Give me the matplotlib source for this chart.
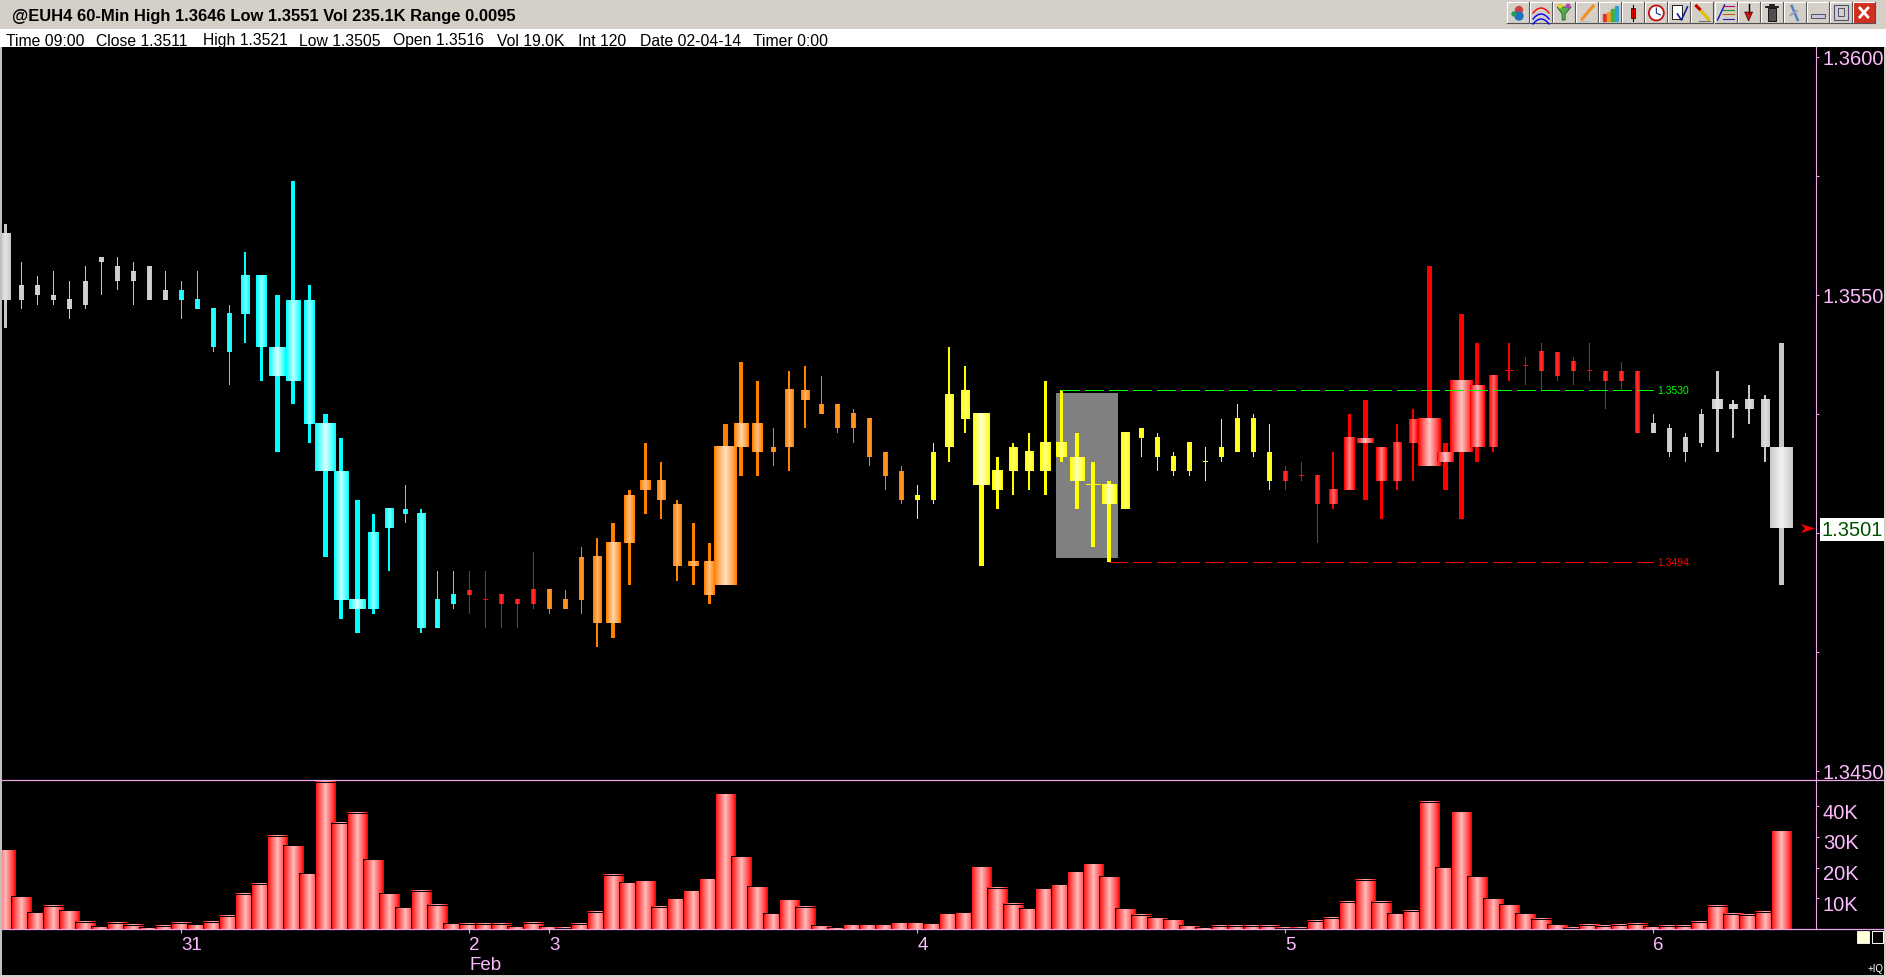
import numpy as np
import matplotlib
matplotlib.use('Agg')
import matplotlib.pyplot as plt
from matplotlib.patches import Rectangle, Circle, Polygon
from matplotlib.transforms import ScaledTranslation

plt.rcParams['font.family'] = ['Liberation Sans', 'DejaVu Sans']
plt.rcParams['lines.scale_dashes'] = False

# candle values
high = [
    1.3565,1.3557,1.3554,1.3555,1.3553,1.3556,1.3558,1.3558,1.3557,1.3556,
    1.3555,1.3553,1.3555,1.3547,1.3548,1.3559,1.3554,1.3550,1.3574,1.3552,
    1.3525,1.3520,1.3507,1.3504,1.3505,1.3510,1.3505,1.3492,1.3492,1.3492,
    1.3492,1.3487,1.3486,1.3496,1.3488,1.3488,1.3497,1.3499,1.3502,1.3509,
    1.3519,1.3515,1.3507,1.3502,1.3498,1.3523,1.3536,1.3532,1.3522,1.3534,
    1.3535,1.3533,1.3527,1.3526,1.3524,1.3517,1.3514,1.3510,1.3519,1.3539,
    1.3535,1.3525,1.3516,1.3519,1.3521,1.3532,1.3530,1.3521,1.3515,1.3511,
    1.3521,1.3522,1.3521,1.3517,1.3519,1.3518,1.3524,1.3527,1.3525,1.3523,
    1.3514,1.3515,1.3512,1.3517,1.3525,1.3528,1.3518,1.3523,1.3526,1.3556,
    1.3519,1.3546,1.3540,1.3533,1.3540,1.3537,1.3540,1.3538,1.3537,1.3540,
    1.3534,1.3536,1.3534,1.3525,1.3523,1.3521,1.3526,1.3534,1.3528,1.3531,
    1.3529,1.3540]
body_top = [
    1.3563,1.3552,1.3552,1.3550,1.3549,1.3553,1.3558,1.3556,1.3555,1.3556,
    1.3551,1.3551,1.3549,1.3547,1.3546,1.3554,1.3554,1.3539,1.3549,1.3549,
    1.3523,1.3513,1.3486,1.3500,1.3505,1.3505,1.3504,1.3486,1.3487,1.3488,
    1.3486,1.3487,1.3486,1.3488,1.3488,1.3486,1.3495,1.3495,1.3498,1.3508,
    1.3511,1.3511,1.3506,1.3494,1.3494,1.3518,1.3523,1.3523,1.3518,1.3530,
    1.3530,1.3527,1.3527,1.3525,1.3524,1.3517,1.3513,1.3508,1.3517,1.3529,
    1.3530,1.3525,1.3513,1.3518,1.3517,1.3519,1.3519,1.3516,1.3510,1.3510,
    1.3521,1.3522,1.3520,1.3516,1.3519,1.3515,1.3518,1.3524,1.3524,1.3517,
    1.3513,1.3512,1.3512,1.3509,1.3520,1.3520,1.3518,1.3519,1.3524,1.3524,
    1.3517,1.3532,1.3531,1.3533,1.3534,1.3535,1.3538,1.3538,1.3536,1.3534,
    1.3534,1.3534,1.3534,1.3523,1.3522,1.3520,1.3525,1.3528,1.3527,1.3528,
    1.3528,1.3518]
body_bot = [
    1.3549,1.3549,1.3550,1.3549,1.3547,1.3548,1.3557,1.3553,1.3553,1.3549,
    1.3549,1.3549,1.3547,1.3539,1.3538,1.3546,1.3539,1.3533,1.3532,1.3523,
    1.3513,1.3486,1.3484,1.3484,1.3501,1.3504,1.3480,1.3480,1.3485,1.3487,
    1.3486,1.3485,1.3485,1.3485,1.3484,1.3484,1.3486,1.3481,1.3481,1.3498,
    1.3509,1.3507,1.3493,1.3493,1.3487,1.3489,1.3518,1.3517,1.3517,1.3518,
    1.3528,1.3525,1.3522,1.3522,1.3516,1.3512,1.3507,1.3507,1.3507,1.3518,
    1.3524,1.3510,1.3509,1.3513,1.3513,1.3513,1.3516,1.3511,1.3510,1.3506,
    1.3505,1.3520,1.3516,1.3513,1.3513,1.3515,1.3516,1.3517,1.3517,1.3511,
    1.3511,1.3512,1.3506,1.3506,1.3509,1.3519,1.3511,1.3511,1.3519,1.3514,
    1.3515,1.3517,1.3518,1.3518,1.3534,1.3535,1.3534,1.3533,1.3534,1.3534,
    1.3532,1.3532,1.3521,1.3521,1.3517,1.3517,1.3519,1.3526,1.3526,1.3526,
    1.3518,1.3501]
low = [
    1.3543,1.3547,1.3548,1.3548,1.3545,1.3547,1.3550,1.3551,1.3548,1.3549,
    1.3549,1.3545,1.3547,1.3538,1.3531,1.3540,1.3532,1.3517,1.3527,1.3519,
    1.3495,1.3482,1.3479,1.3483,1.3492,1.3502,1.3479,1.3480,1.3484,1.3483,
    1.3480,1.3480,1.3480,1.3484,1.3483,1.3484,1.3483,1.3476,1.3478,1.3489,
    1.3504,1.3503,1.3490,1.3489,1.3485,1.3489,1.3512,1.3512,1.3514,1.3513,
    1.3522,1.3525,1.3521,1.3519,1.3514,1.3509,1.3506,1.3503,1.3506,1.3515,
    1.3521,1.3493,1.3505,1.3508,1.3509,1.3508,1.3515,1.3505,1.3497,1.3494,
    1.3505,1.3516,1.3513,1.3512,1.3512,1.3511,1.3515,1.3517,1.3516,1.3509,
    1.3509,1.3511,1.3498,1.3505,1.3509,1.3507,1.3503,1.3509,1.3511,1.3514,
    1.3509,1.3503,1.3515,1.3517,1.3532,1.3531,1.3530,1.3532,1.3531,1.3532,
    1.3526,1.3530,1.3521,1.3521,1.3516,1.3515,1.3518,1.3517,1.3520,1.3523,
    1.3515,1.3489]
# volume in thousands
volume = [
    26,10.7,5.4,7.6,6.1,2.4,0.9,2.0,1.4,0.5,
    1.1,2.0,1.5,2.4,4.3,11.5,14.8,30.4,27.3,18.2,
    48,34.6,37.9,22.7,11.6,7.1,12.5,7.9,1.8,1.7,
    1.7,1.7,0.9,2.0,0.9,0.4,1.7,5.7,17.6,15.2,
    15.9,7.2,10,12.6,16.5,44.2,23.7,13.9,5.2,9.7,
    7.2,1.3,0.5,1.5,1.5,1.5,2.2,2.2,1.8,5.1,
    5.4,20.4,13.4,8.2,6.8,13.3,14.6,18.8,21.4,17.2,
    6.8,4.6,3.8,3.2,1.3,0.5,1.1,1.1,1.1,1.1,
    0.4,0.4,2.7,3.7,8.9,16.1,8.9,5.1,6.0,41.5,
    20.1,38.3,17.2,10,8,5.1,3.4,1.5,0.4,1.4,
    1.1,1.4,1.7,0.9,1.1,1.1,2.4,7.6,5,4.7,
    5.7,32.1]
# body width in screen pixels, the chart scales it with volume
body_w = [
    11,5,5,5,5,5,5,5,5,5,
    5,5,5,5,5,9,11,17,15,11,
    21,15,17,11,9,5,9,5,5,5,
    5,5,5,5,5,5,5,9,15,11,
    11,9,9,11,11,23,15,11,5,9,
    9,5,5,5,5,5,5,5,5,9,
    9,17,11,9,9,11,11,15,15,15,
    9,5,5,5,5,5,5,5,5,5,
    5,5,5,9,11,17,11,9,9,23,
    17,23,15,9,9,5,5,5,5,5,
    5,5,5,5,5,5,5,11,9,9,
    9,23]
# colour runs: (first bar, edge colour, centre colour)
color_runs = [(0, '#C8C8C8', '#F2F2F2'), (11, '#00FFFF', '#D8FFFF'), (29, '#FF0000', '#FFC4C4'),
              (34, '#FF8000', '#FFE0C0'), (57, '#FFFF00', '#FFFFD0'), (80, '#FF0000', '#FFC4C4'),
              (103, '#C8C8C8', '#F2F2F2')]

price_ticks = [1.3450, 1.3500, 1.3550, 1.3600]
price_minor = [1.3475, 1.3525, 1.3575]
vol_ticks = [10, 20, 30, 40]
date_pos = [11, 29, 34, 57, 80, 103]
date_lab = ['31', '2\nFeb', '3', '4', '5', '6']
upper_level = 1.3530
lower_level = 1.3494
last_price = 1.3501

W, H = 1886, 978
PINK = '#FFBBFF'
LINE = '#EBA6EB'
BTN = '#D4D0C8'
BAR_STEP = 16.0


def px_axes(fig, left, top, right, bottom):
    return fig.add_axes([left / W, 1 - bottom / H, (right - left) / W, (bottom - top) / H], facecolor='black')


def to_rgb(c):
    return np.array(matplotlib.colors.to_rgb(c))


def gradient(edge, center, w_px):
    u = np.abs(np.linspace(-1, 1, max(int(w_px), 3)))
    f = (1 - u) ** 0.85 * min(1.0, w_px / 17.0)
    e = to_rgb(edge)
    c = to_rgb(center)
    return np.array([[e + (c - e) * v for v in f]])


def run_color(i):
    cur = color_runs[0]
    for r in color_runs:
        if i >= r[0]:
            cur = r
    return cur


def wick_width(w):
    if w <= 5:
        return 1
    if w <= 9:
        return 2
    if w <= 11:
        return 3
    if w <= 15:
        return 4
    return 5


def draw_candles(ax):
    one_px = 1 / 47600.0
    for i in range(len(high)):
        _, edge, center = run_color(i)
        w = body_w[i]
        z = 3 + i * 0.01
        ax.bar(i, high[i] - low[i], bottom=low[i], width=wick_width(w) / BAR_STEP, color=edge,
               antialiased=False, linewidth=0, zorder=z)
        half = w / BAR_STEP / 2
        if body_top[i] - body_bot[i] < 1e-6:
            ax.bar(i, one_px, bottom=body_bot[i], width=2 * half, color=edge, antialiased=False,
                   linewidth=0, zorder=z)
        else:
            ax.imshow(gradient(edge, center, w), extent=(i - half, i + half, body_bot[i], body_top[i]),
                      aspect='auto', interpolation='nearest', zorder=z)


def draw_volume(ax):
    half = 21 / BAR_STEP / 2
    for i, v in enumerate(volume):
        z = 3 + i * 0.01
        ax.imshow(gradient('#FF0000', '#FFBABA', 21), extent=(i - half, i + half, 0, v), aspect='auto',
                  interpolation='nearest', zorder=z)
        ax.bar(i, v, width=2 * half, facecolor='none', edgecolor='black', linewidth=0.72,
               antialiased=False, zorder=z + 0.001)


def draw_button(ch, k):
    x = 1507 + 23.06 * k
    ch.add_patch(Rectangle((x, 3), 22, 21, facecolor=BTN, edgecolor='none'))
    ch.plot([x, x, x + 22], [24, 3, 3], color='white', lw=0.8)
    ch.plot([x, x + 22, x + 22], [24, 24, 3], color='#505050', lw=0.8)
    cx = x + 11
    if k == 0:
        ch.add_patch(Circle((cx + 1, 11), 3.5, color='#D04040'))
        ch.add_patch(Circle((cx + 1, 17), 4, color='#2070C0'))
        ch.add_patch(Circle((cx - 4, 15), 2, color='#20A060'))
    elif k == 1:
        t = np.linspace(-1, 1, 12)
        for off, c in ((0, 'red'), (6, 'blue'), (11, 'blue')):
            ch.plot(cx + t * 8, 9 + off + 5 * t ** 2, color=c, lw=1)
    elif k == 2:
        ch.add_patch(Polygon([(cx - 7, 8), (cx + 7, 8), (cx + 1, 15), (cx + 1, 21), (cx - 2, 21), (cx - 2, 15)],
                             facecolor='#50B050', edgecolor='#206020', lw=0.6))
        ch.add_patch(Circle((cx - 4, 7), 1.8, color='#E0D020'))
        ch.add_patch(Circle((cx + 4, 7), 1.8, color='#C040C0'))
    elif k == 3:
        ch.plot([cx - 5, cx + 6], [20, 7], color='#F09020', lw=2.2)
        ch.plot([cx - 8, cx + 2], [22, 22], color='#C0C0C0', lw=0.8)
    elif k == 4:
        for off, h, c in ((-6, 7, '#E03030'), (-2, 9, '#F0A020'), (2, 12, '#40B040'), (6, 15, '#30A0D0')):
            ch.add_patch(Rectangle((cx + off - 1.5, 22 - h), 3, h, color=c))
    elif k == 5:
        ch.plot([cx, cx], [6, 22], color='black', lw=0.8)
        ch.add_patch(Rectangle((cx - 2, 9), 4, 10, facecolor='#FF0000', edgecolor='black', lw=0.5))
    elif k == 6:
        ch.add_patch(Circle((cx, 14), 7.5, facecolor='white', edgecolor='#C01010', lw=1.3))
        ch.plot([cx, cx, cx + 4], [9, 14, 16], color='#103080', lw=0.8)
    elif k == 7:
        ch.add_patch(Rectangle((cx - 7, 6), 10, 14, facecolor='white', edgecolor='black', lw=0.6))
        ch.plot([cx - 2, cx + 2, cx + 8], [15, 21, 8], color='#102090', lw=1.2)
    elif k == 8:
        ch.plot([cx - 6, cx + 6], [7, 20], color='#E0C000', lw=2.2)
        ch.plot([cx - 6, cx - 3], [7, 10], color='#C00000', lw=2.2)
        ch.plot([cx - 3, cx + 8], [22, 22], color='#707070', lw=0.8)
    elif k == 9:
        ch.plot([cx - 8, cx - 1], [21, 6], color='#1010D0', lw=1)
        for yy, c in ((7, '#C00060'), (11, '#209020'), (15, '#C06000'), (20, '#2020C0')):
            ch.plot([cx - 3, cx + 8], [yy, yy], color=c, lw=0.8)
    elif k == 10:
        ch.plot([cx, cx], [5, 14], color='black', lw=1)
        ch.add_patch(Polygon([(cx - 4, 13), (cx + 4, 13), (cx, 22)], facecolor='#E01010', edgecolor='black', lw=0.4))
    elif k == 11:
        ch.add_patch(Rectangle((cx - 4, 9), 8, 13, facecolor='#505050', edgecolor='black', lw=0.6))
        ch.plot([cx - 6, cx + 6], [8, 8], color='black', lw=1.2)
        ch.plot([cx - 2, cx + 2], [6, 6], color='black', lw=1.2)
    elif k == 12:
        ch.plot([cx - 3, cx + 3], [7, 21], color='#5080C0', lw=1.8)
        ch.plot([cx - 4, cx + 2], [16, 12], color='#A0A0B0', lw=1.6)
    elif k == 13:
        ch.add_patch(Rectangle((cx - 7, 15), 14, 4, facecolor='#C8C8D8', edgecolor='#505070', lw=0.7))
    elif k == 14:
        ch.add_patch(Rectangle((cx - 7, 6), 14, 15, facecolor='none', edgecolor='#505070', lw=0.8))
        ch.add_patch(Rectangle((cx - 3, 9), 6, 8, facecolor='none', edgecolor='#505070', lw=0.7))
    else:
        ch.add_patch(Rectangle((x + 1, 4), 20, 19, color='#D03020'))
        ch.plot([cx - 4, cx + 4], [9, 18], color='white', lw=2)
        ch.plot([cx - 4, cx + 4], [18, 9], color='white', lw=2)


def main():
    fig = plt.figure(figsize=(W / 100, H / 100), dpi=100, facecolor='black')
    ax = px_axes(fig, 2, 48, 1816, 781)
    vx = px_axes(fig, 2, 781, 1816, 930)
    xlim = ((2 - 5.33) / BAR_STEP, (1816 - 5.33) / BAR_STEP)

    # highlighted box under the candles
    ax.add_patch(Rectangle((65.67, 1.34947), 3.87, 0.00347, color='#808080', linewidth=0, zorder=1))
    draw_candles(ax)
    ax.plot([66, 103], [upper_level, upper_level], color='#00FF00', lw=0.9, antialiased=False,
            linestyle=(0, (13, 4.3)), dash_capstyle='butt', zorder=6)
    ax.plot([69, 103], [lower_level, lower_level], color='#FF0000', lw=0.9, antialiased=False,
            linestyle=(0, (13, 4.3)), dash_capstyle='butt', zorder=6)
    ax.text(103.25, upper_level, '1.3530', color='#00FF00', fontsize=7.5, va='center', zorder=7)
    ax.text(103.25, lower_level, '1.3494', color='#FF0000', fontsize=7.5, va='center', zorder=7)

    ax.set_xlim(xlim)
    ax.set_ylim(1.3550 - 485 / 47600.0, 1.3550 + 248 / 47600.0)
    ax.set_xticks([])
    ax.yaxis.tick_right()
    ax.set_yticks(price_ticks)
    # the 1.3500 label sits under the last price flag, so only its tick shows
    ax.set_yticklabels(['' if p == 1.3500 else '%.4f' % p for p in price_ticks])
    ax.set_yticks(price_minor, minor=True)
    ax.tick_params(axis='y', which='major', length=2.5, width=0.8, color=LINE, labelcolor=PINK, labelsize=14.5, pad=2.5)
    ax.tick_params(axis='y', which='minor', length=2.5, width=0.8, color=LINE)
    for side in ('top', 'bottom', 'left'):
        ax.spines[side].set_visible(False)
    ax.spines['right'].set_color(LINE)
    ax.spines['right'].set_linewidth(0.8)

    draw_volume(vx)
    vx.set_xlim(xlim)
    vx.set_ylim(0, 149 / 3.07)
    vx.yaxis.tick_right()
    vx.set_yticks(vol_ticks)
    vx.set_yticklabels(['%dK' % v for v in vol_ticks])
    vx.tick_params(axis='y', length=2.5, width=0.8, color=LINE, labelcolor=PINK, labelsize=14.5, pad=2.5)
    # volume labels hang a little below their ticks
    down = ScaledTranslation(0, -4 / 100, fig.dpi_scale_trans)
    for lab in vx.get_yticklabels():
        lab.set_transform(lab.get_transform() + down)
    vx.set_xticks(date_pos)
    vx.set_xticklabels(date_lab, ha='left', linespacing=1.2)
    vx.tick_params(axis='x', length=3, width=0.8, color=LINE, labelcolor=PINK, labelsize=13.5, pad=2)
    for side in ('top', 'bottom', 'left'):
        vx.spines[side].set_visible(False)
    vx.spines['right'].set_color(LINE)
    vx.spines['right'].set_linewidth(0.8)

    # window frame, header rows, toolbar and other screen furniture in pixel coordinates
    ch = fig.add_axes([0, 0, 1, 1], zorder=10)
    ch.set_xlim(0, W)
    ch.set_ylim(H, 0)
    ch.axis('off')
    ch.patch.set_alpha(0)
    ch.add_patch(Rectangle((0, 0), W, 30, color=BTN, linewidth=0))
    ch.add_patch(Rectangle((0, 0), W, 1.2, color='#808080', linewidth=0))
    ch.add_patch(Rectangle((0, 30), W, 18, color='white', linewidth=0))
    ch.add_patch(Rectangle((0, 48), 1.8, H - 48, color='#C0C0C0', linewidth=0))
    ch.add_patch(Rectangle((1884, 48), 2, H - 48, color=BTN, linewidth=0))
    ch.add_patch(Rectangle((0, 976), W, 2, color=BTN, linewidth=0))
    ch.plot([2, 1884], [781, 781], color=LINE, lw=0.9)
    ch.plot([2, 1884], [930, 930], color=LINE, lw=0.9)

    ch.text(12, 17, '@EUH4 60-Min High 1.3646 Low 1.3551 Vol 235.1K Range 0.0095',
            fontsize=11.9, fontweight='bold', color='black', va='center')
    row_x = [6, 96, 203, 299, 393, 497, 578, 640, 753]
    row_txt = ['Time 09:00', 'Close 1.3511', 'High 1.3521', 'Low 1.3505', 'Open 1.3516',
               'Vol 19.0K', 'Int 120', 'Date 02-04-14', 'Timer 0:00']
    for x, s in zip(row_x, row_txt):
        ch.text(x, 41, s, fontsize=11.3, color='black', va='center')
    for k in range(16):
        draw_button(ch, k)

    # last price flag and arrow
    ch.add_patch(Rectangle((1820, 519), 64, 23, color='white', linewidth=0))
    ch.text(1852, 531, '%.4f' % last_price, color='#005000', fontsize=14.5, ha='center', va='center')
    ch.add_patch(Polygon([(1801, 525), (1815, 529.5), (1801, 534), (1805, 529.5)], color='#FF0000', linewidth=0))

    ch.add_patch(Rectangle((1857, 932), 12, 12, facecolor='#FFFFD8', edgecolor='white', lw=0.6))
    ch.add_patch(Rectangle((1872, 932), 11, 12, facecolor='black', edgecolor='white', lw=0.7))
    ch.text(1884, 969, '+IQ', color='white', fontsize=7, ha='right', va='center')

    fig.savefig('out.png', dpi=100, facecolor='black')


if __name__ == '__main__':
    main()
